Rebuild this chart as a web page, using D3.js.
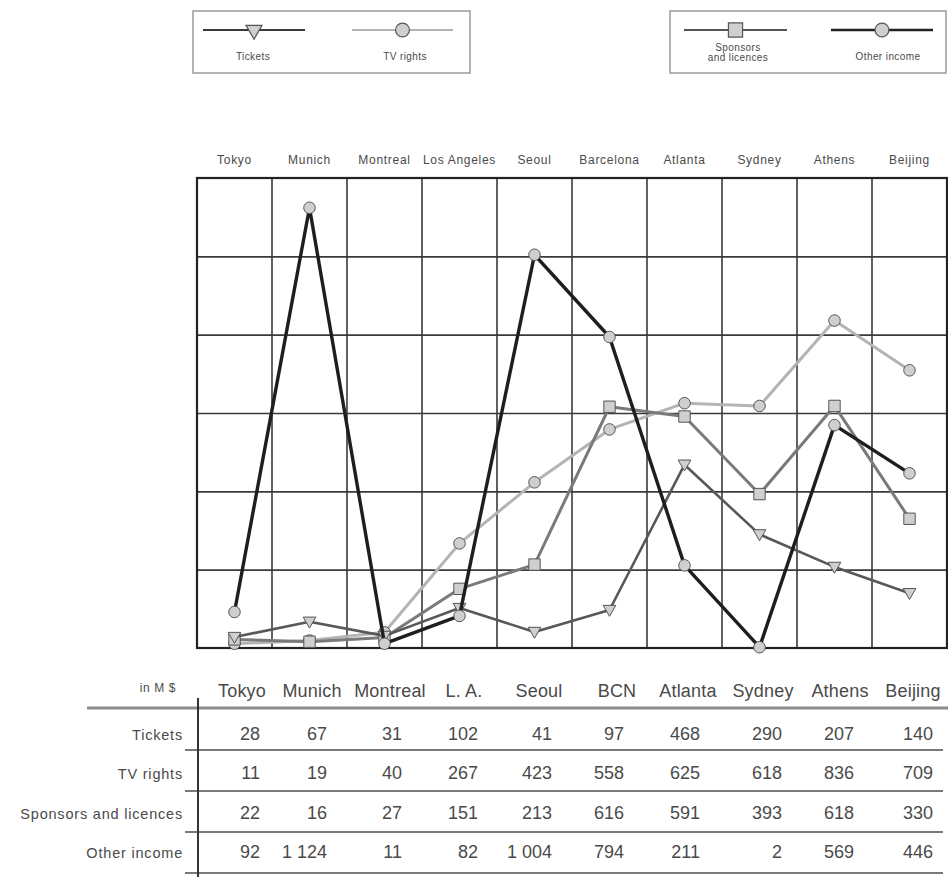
<!DOCTYPE html>
<html>
<head>
<meta charset="utf-8">
<script src="https://cdn.jsdelivr.net/npm/d3@7/dist/d3.min.js"></script>
<style>
  html, body { margin: 0; padding: 0; background: #fff; }
  svg { display: block; font-family: "Liberation Sans", Arial, sans-serif; }
</style>
</head>
<body>
<svg id="chart" width="948" height="877"></svg>
<script>
// Olympic Games revenue by source, in M $
const cities = ["Tokyo", "Munich", "Montreal", "Los Angeles", "Seoul", "Barcelona", "Atlanta", "Sydney", "Athens", "Beijing"];
const tableCities = ["Tokyo", "Munich", "Montreal", "L. A.", "Seoul", "BCN", "Atlanta", "Sydney", "Athens", "Beijing"];
const tickets = [28, 67, 31, 102, 41, 97, 468, 290, 207, 140];
const tvRights = [11, 19, 40, 267, 423, 558, 625, 618, 836, 709];
const sponsors = [22, 16, 27, 151, 213, 616, 591, 393, 618, 330];
const otherIncome = [92, 1124, 11, 82, 1004, 794, 211, 2, 569, 446];
const rowLabels = ["Tickets", "TV rights", "Sponsors and licences", "Other income"];
const unitLabel = "in M $";

const svg = d3.select("#chart");
const textColor = "#4a4a4a";

// ---- plot area ----
const plot = { left: 197, right: 947, top: 178, bottom: 648 };
const x = d3.scaleBand().domain(cities).range([plot.left, plot.right]);
const y = d3.scaleLinear().domain([0, 1200]).range([plot.bottom, plot.top]);
const cx = c => x(c) + x.bandwidth() / 2;

// grid: horizontal lines every 200, vertical lines between host cities
const gridH = svg.append("g")
  .attr("transform", `translate(${plot.left},0)`)
  .call(d3.axisLeft(y).tickValues(d3.range(200, 1200, 200)).tickSize(-(plot.right - plot.left)).tickFormat(""));
gridH.select(".domain").remove();
gridH.selectAll(".tick line").attr("stroke", "#3a3a3a").attr("stroke-width", 1.6);

svg.append("g").selectAll("line")
  .data(cities.slice(1))
  .join("line")
  .attr("x1", d => x(d)).attr("x2", d => x(d))
  .attr("y1", plot.top).attr("y2", plot.bottom)
  .attr("stroke", "#3a3a3a").attr("stroke-width", 1.6);

svg.append("rect")
  .attr("x", plot.left).attr("y", plot.top)
  .attr("width", plot.right - plot.left).attr("height", plot.bottom - plot.top)
  .attr("fill", "none").attr("stroke", "#222").attr("stroke-width", 2.2);

// city names above the plot
const topAxis = svg.append("g")
  .attr("transform", `translate(0,${plot.top})`)
  .call(d3.axisTop(x).tickSize(0).tickPadding(14));
topAxis.select(".domain").remove();
topAxis.selectAll("text")
  .attr("font-family", "\"Liberation Sans\", Arial, sans-serif")
  .attr("font-size", 12).attr("letter-spacing", 0.7).attr("fill", textColor);

// ---- series ----
const markerFill = "#cfcfcf", markerStroke = "#555";
const triDown = d3.symbol().type(d3.symbolTriangle).size(70);
const circ = d3.symbol().type(d3.symbolCircle).size(105);
const sq = d3.symbol().type(d3.symbolSquare).size(130);

const series = [
  { name: "TV rights", values: tvRights, color: "#b4b4b4", width: 3, shape: circ, rot: 0 },
  { name: "Sponsors and licences", values: sponsors, color: "#7a7a7a", width: 3, shape: sq, rot: 0 },
  { name: "Tickets", values: tickets, color: "#585858", width: 2.6, shape: triDown, rot: 180 },
  { name: "Other income", values: otherIncome, color: "#1e1e1e", width: 3.4, shape: circ, rot: 0 }
];

const line = d3.line().x(d => cx(d.city)).y(d => y(d.v));

series.forEach(s => {
  const pts = cities.map((c, i) => ({ city: c, v: s.values[i] }));
  const g = svg.append("g");
  g.append("path").datum(pts)
    .attr("d", line).attr("fill", "none")
    .attr("stroke", s.color).attr("stroke-width", s.width)
    .attr("stroke-linejoin", "round");
  g.selectAll("path.m").data(pts).join("path").attr("class", "m")
    .attr("d", s.shape)
    .attr("transform", d => `translate(${cx(d.city)},${y(d.v) + (s.rot ? -1 : 0)}) rotate(${s.rot})`)
    .attr("fill", markerFill).attr("stroke", markerStroke).attr("stroke-width", 1);
});

// ---- legends ----
function legendBox(x0, y0, w, h) {
  svg.append("rect").attr("x", x0).attr("y", y0).attr("width", w).attr("height", h)
    .attr("fill", "#fff").attr("stroke", "#9a9a9a").attr("stroke-width", 1.5);
}
function legendItem(x1, x2, ly, s, labelLines, labelX, labelY) {
  svg.append("line").attr("x1", x1).attr("x2", x2).attr("y1", ly).attr("y2", ly)
    .attr("stroke", s.lcolor).attr("stroke-width", s.lwidth);
  svg.append("path").attr("d", s.shape)
    .attr("transform", `translate(${(x1 + x2) / 2},${ly}) rotate(${s.rot})`)
    .attr("fill", markerFill).attr("stroke", markerStroke).attr("stroke-width", 1.2);
  const t = svg.append("text").attr("x", labelX).attr("y", labelY)
    .attr("text-anchor", "middle").attr("font-size", 10).attr("letter-spacing", 0.4).attr("fill", textColor);
  labelLines.forEach((l, i) => t.append("tspan").attr("x", labelX).attr("dy", i ? 10 : 0).text(l));
}
legendBox(193, 11, 277, 62);
legendItem(203, 305, 30, { lcolor: "#3a3a3a", lwidth: 2, shape: d3.symbol().type(d3.symbolTriangle).size(110), rot: 180 }, ["Tickets"], 253, 60);
legendItem(352, 453, 30, { lcolor: "#9a9a9a", lwidth: 1.5, shape: d3.symbol().type(d3.symbolCircle).size(150), rot: 0 }, ["TV rights"], 405, 60);
legendBox(670, 11, 276, 62);
legendItem(684, 787, 30, { lcolor: "#555", lwidth: 2, shape: d3.symbol().type(d3.symbolSquare).size(200), rot: 0 }, ["Sponsors", "and licences"], 738, 51);
legendItem(831, 933, 30, { lcolor: "#222", lwidth: 2.6, shape: d3.symbol().type(d3.symbolCircle).size(150), rot: 0 }, ["Other income"], 888, 60);

// ---- data table ----
const fmt = d3.formatLocale({ decimal: ".", thousands: " ", grouping: [3], currency: ["", ""] }).format(",d");
const headerCenters = [242, 312, 390, 464, 539, 617, 688, 763, 840, 913];
const valueRight = [260, 327, 402, 478, 552, 624, 700, 782, 854, 933];
const rowBase = [740, 779, 819, 858];
const rowSep = [750, 791, 832, 873];
const tableRows = [tickets, tvRights, sponsors, otherIncome];

svg.append("line").attr("x1", 87).attr("x2", 948).attr("y1", 708).attr("y2", 708)
  .attr("stroke", "#8c8c8c").attr("stroke-width", 3);
svg.selectAll("line.sep").data(rowSep).join("line").attr("class", "sep")
  .attr("x1", 185).attr("x2", 943).attr("y1", d => d).attr("y2", d => d)
  .attr("stroke", "#7a7a7a").attr("stroke-width", 1.8);
svg.append("line").attr("x1", 198).attr("x2", 198).attr("y1", 698).attr("y2", 877)
  .attr("stroke", "#333").attr("stroke-width", 2);

svg.append("text").attr("x", 176).attr("y", 692).attr("text-anchor", "end")
  .attr("font-size", 12).attr("letter-spacing", 0.6).attr("fill", textColor).text(unitLabel);

svg.selectAll("text.colh").data(tableCities).join("text").attr("class", "colh")
  .attr("x", (d, i) => headerCenters[i]).attr("y", 697)
  .attr("text-anchor", "middle").attr("font-size", 18).attr("letter-spacing", 0.2)
  .attr("fill", textColor).text(d => d);

svg.selectAll("text.rowh").data(rowLabels).join("text").attr("class", "rowh")
  .attr("x", 183).attr("y", (d, i) => rowBase[i])
  .attr("text-anchor", "end").attr("font-size", 14.5).attr("letter-spacing", 0.8)
  .attr("fill", textColor).text(d => d);

tableRows.forEach((vals, r) => {
  svg.append("g").selectAll("text").data(vals).join("text")
    .attr("x", (d, i) => valueRight[i]).attr("y", rowBase[r])
    .attr("text-anchor", "end").attr("font-size", 18)
    .attr("fill", textColor).text(d => fmt(d));
});
</script>
</body>
</html>
